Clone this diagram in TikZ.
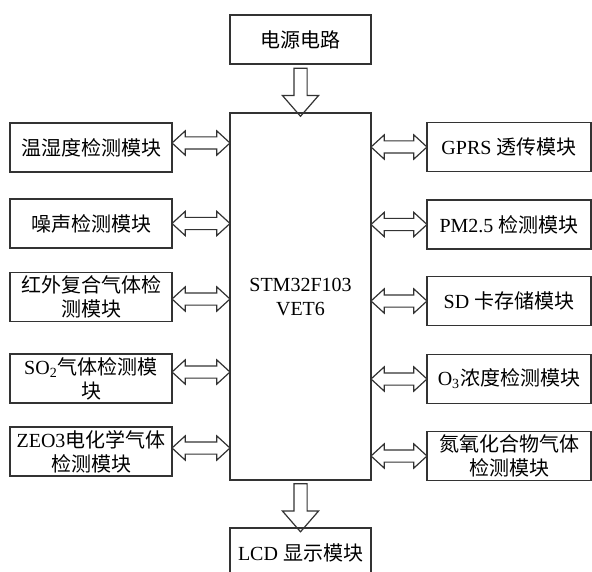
\documentclass[tikz,border=0pt]{standalone}
\usepackage{fontspec}
\setmainfont{Liberation Serif}
\newfontfamily\cjk{Noto Sans CJK SC}
\usetikzlibrary{calc}
\usetikzlibrary{shapes.arrows}

\begin{document}
\begin{tikzpicture}[
		x=0.5pt, y=-0.5pt,
		t/.style = {rectangle, draw=black!80, line width=0.6pt, minimum width=81pt, minimum height=24.5pt, inner sep=0pt, align=center},
		c/.style = {t, minimum width=70.5pt},
		da/.style = {double arrow, draw=black!80, line width=0.6pt, minimum height=28pt, inner sep=2.75pt, double arrow head extend=3pt, double arrow tip angle=85},
		sa/.style = {single arrow, draw=black!80, line width=0.6pt, rotate=-90, minimum height=24pt, inner sep=3pt, single arrow head extend=5.75pt, single arrow tip angle=82}
		]
		\useasboundingbox (0,0) rectangle (592,571);
		
		%Nodes
		\node[c]	(pwr)	at	(300.5, 39.5)	{\cjk 电源电路};
		\node[c, minimum height=183.5pt]	(mcu)	at	(300.5, 296.5)	{STM32F103\\VET6};
		\node[c]	(lcd)	at	(300.5, 552.5)	{LCD {\cjk 显示模块}};
		
		\node[t]	(l1)	at	(91, 147.5)		{\cjk 温湿度检测模块};
		\node[t]	(l2)	at	(91, 223.5)		{\cjk 噪声检测模块};
		\node[t]	(l3)	at	(91, 297)		{\cjk 红外复合气体检\\\cjk 测模块};
		\node[t]	(l4)	at	(91, 378.5)		{SO\textsubscript{2}{\cjk 气体检测模}\\\cjk 块};
		\node[t]	(l5)	at	(91, 451.5)		{ZEO3{\cjk 电化学气体}\\\cjk 检测模块};
		
		\node[t, minimum width=82pt]	(r1)	at	(509, 147)		{GPRS {\cjk 透传模块}};
		\node[t, minimum width=82pt]	(r2)	at	(509, 224.5)	{PM2.5 {\cjk 检测模块}};
		\node[t, minimum width=82pt]	(r3)	at	(509, 301)		{SD {\cjk 卡存储模块}};
		\node[t, minimum width=82pt]	(r4)	at	(509, 379)		{O\textsubscript{3}{\cjk 浓度检测模块}};
		\node[t, minimum width=82pt]	(r5)	at	(509, 456)		{\cjk 氮氧化合物气体\\\cjk 检测模块};
		
		%Arrows
		\path	(pwr.south)	--	(mcu.north)	node[sa, midway]	{};
		\path	(mcu.south)	--	(lcd.north)	node[sa, midway]	{};
		
		\path	([yshift=2.25pt]l1.east)	--	([yshift=2.25pt]l1.east -| mcu.west)	node[da, minimum height=29pt, midway]	{};
		\path	(l2.east)					--	(l2.east -| mcu.west)					node[da, minimum height=29pt, midway]	{};
		\path	([yshift=-1pt]l3.east)		--	([yshift=-1pt]l3.east -| mcu.west)		node[da, minimum height=29pt, midway]	{};
		\path	([yshift=3.25pt]l4.east)	--	([yshift=3.25pt]l4.east -| mcu.west)	node[da, minimum height=29pt, midway]	{};
		\path	([yshift=1.75pt]l5.east)	--	([yshift=1.75pt]l5.east -| mcu.west)	node[da, minimum height=29pt, midway]	{};
		
		\path	(r1.west)	--	(r1.west -| mcu.east)	node[da, midway]	{};
		\path	(r2.west)	--	(r2.west -| mcu.east)	node[da, midway]	{};
		\path	(r3.west)	--	(r3.west -| mcu.east)	node[da, midway]	{};
		\path	(r4.west)	--	(r4.west -| mcu.east)	node[da, midway]	{};
		\path	(r5.west)	--	(r5.west -| mcu.east)	node[da, midway]	{};
	\end{tikzpicture}
\end{document}
